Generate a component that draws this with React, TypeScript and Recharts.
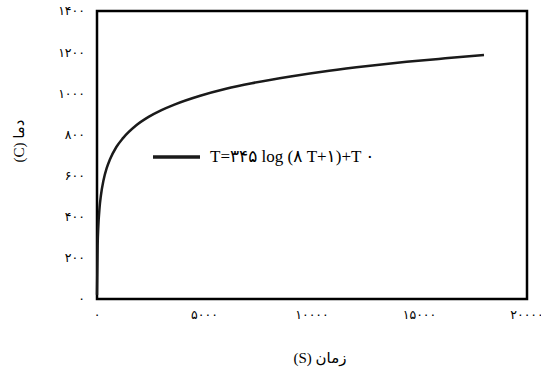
import React from 'react';
import { LineChart, Line, XAxis, YAxis, ReferenceArea, Legend } from 'recharts';

// fire curve (time in seconds, temperature in C)
const timeSec = [0, 30, 60, 120, 180, 300, 450, 600, 900, 1200, 1800, 2400, 3000, 3600, 4800, 6000, 7200, 9000, 10800, 12600, 14400, 16200, 18000];
const tempC = [20, 261, 349, 445, 502, 576, 636, 678, 739, 781, 842, 885, 918, 945, 988, 1022, 1049, 1082, 1110, 1133, 1153, 1170, 1186];

const xTicks = [0, 5000, 10000, 15000, 20000];
const xTickLabels = ['۰', '۵۰۰۰', '۱۰۰۰۰', '۱۵۰۰۰', '۲۰۰۰۰'];
const yTicks = [0, 200, 400, 600, 800, 1000, 1200, 1400];
const yTickLabels = ['۰', '۲۰۰', '۴۰۰', '۶۰۰', '۸۰۰', '۱۰۰۰', '۱۲۰۰', '۱۴۰۰'];

const seriesName = 'T=۳۴۵ log (۸ T+۱)+T ۰';
const xTitle = 'زمان (S)';
const yTitle = 'دما (C)';

const data = timeSec.map((t, i) => ({ t, temp: tempC[i] }));

const tickFont = { fill: '#000', fontSize: 12.5, fontFamily: 'DejaVu Sans', letterSpacing: 1.5 };

const titleProps = {
  textAnchor: 'middle' as const,
  dominantBaseline: 'central' as const,
  direction: 'rtl' as const,
  fontSize: 15,
  fontFamily: '"Liberation Serif", "DejaVu Sans"',
  fill: '#000',
};

// axis titles, placed like in the figure
const YTitle = () => (
  <text x={19} y={141} transform="rotate(-90, 19, 141)" {...titleProps}>
    {yTitle}
  </text>
);

const XTitle = () => (
  <text x={320} y={358} {...titleProps}>
    {xTitle}
  </text>
);

const LegendContent = () => (
  <div style={{ display: 'flex', alignItems: 'center', whiteSpace: 'nowrap' }}>
    <svg width={50} height={8} style={{ marginRight: 9 }}>
      <line x1={2} y1={4} x2={49} y2={4} stroke="#1a1a1a" strokeWidth={3.5} />
    </svg>
    <span style={{ fontFamily: '"Liberation Serif", "DejaVu Sans"', fontSize: 17, color: '#000' }}>
      {seriesName}
    </span>
  </div>
);

export default function App() {
  return (
    <div style={{ position: 'absolute', left: 0, top: 0, background: '#fff' }}>
      <LineChart width={541} height={383} data={data} margin={{ top: 11, right: 14, bottom: 0, left: 0 }}>
        <XAxis
          type="number"
          dataKey="t"
          domain={[0, 20000]}
          ticks={xTicks}
          tickFormatter={(v: number) => xTickLabels[xTicks.indexOf(v)]}
          axisLine={false}
          tickLine={false}
          tickMargin={5}
          tick={tickFont}
          height={84}
          interval={0}
          label={<XTitle />}
        />
        <YAxis
          type="number"
          domain={[0, 1400]}
          ticks={yTicks}
          tickFormatter={(v: number) => yTickLabels[yTicks.indexOf(v)]}
          axisLine={false}
          tickLine={false}
          tickMargin={6}
          tick={tickFont}
          width={97}
          interval={0}
          label={<YTitle />}
        />
        <ReferenceArea x1={0} x2={20000} y1={0} y2={1400} fill="none" stroke="#000" strokeWidth={2.5} />
        <Legend
          layout="vertical"
          align="center"
          verticalAlign="middle"
          content={<LegendContent />}
          wrapperStyle={{ left: 151, top: 146, width: 'auto' }}
        />
        <Line
          type="monotone"
          dataKey="temp"
          stroke="#1a1a1a"
          strokeWidth={2.5}
          dot={false}
          isAnimationActive={false}
        />
      </LineChart>
    </div>
  );
}
